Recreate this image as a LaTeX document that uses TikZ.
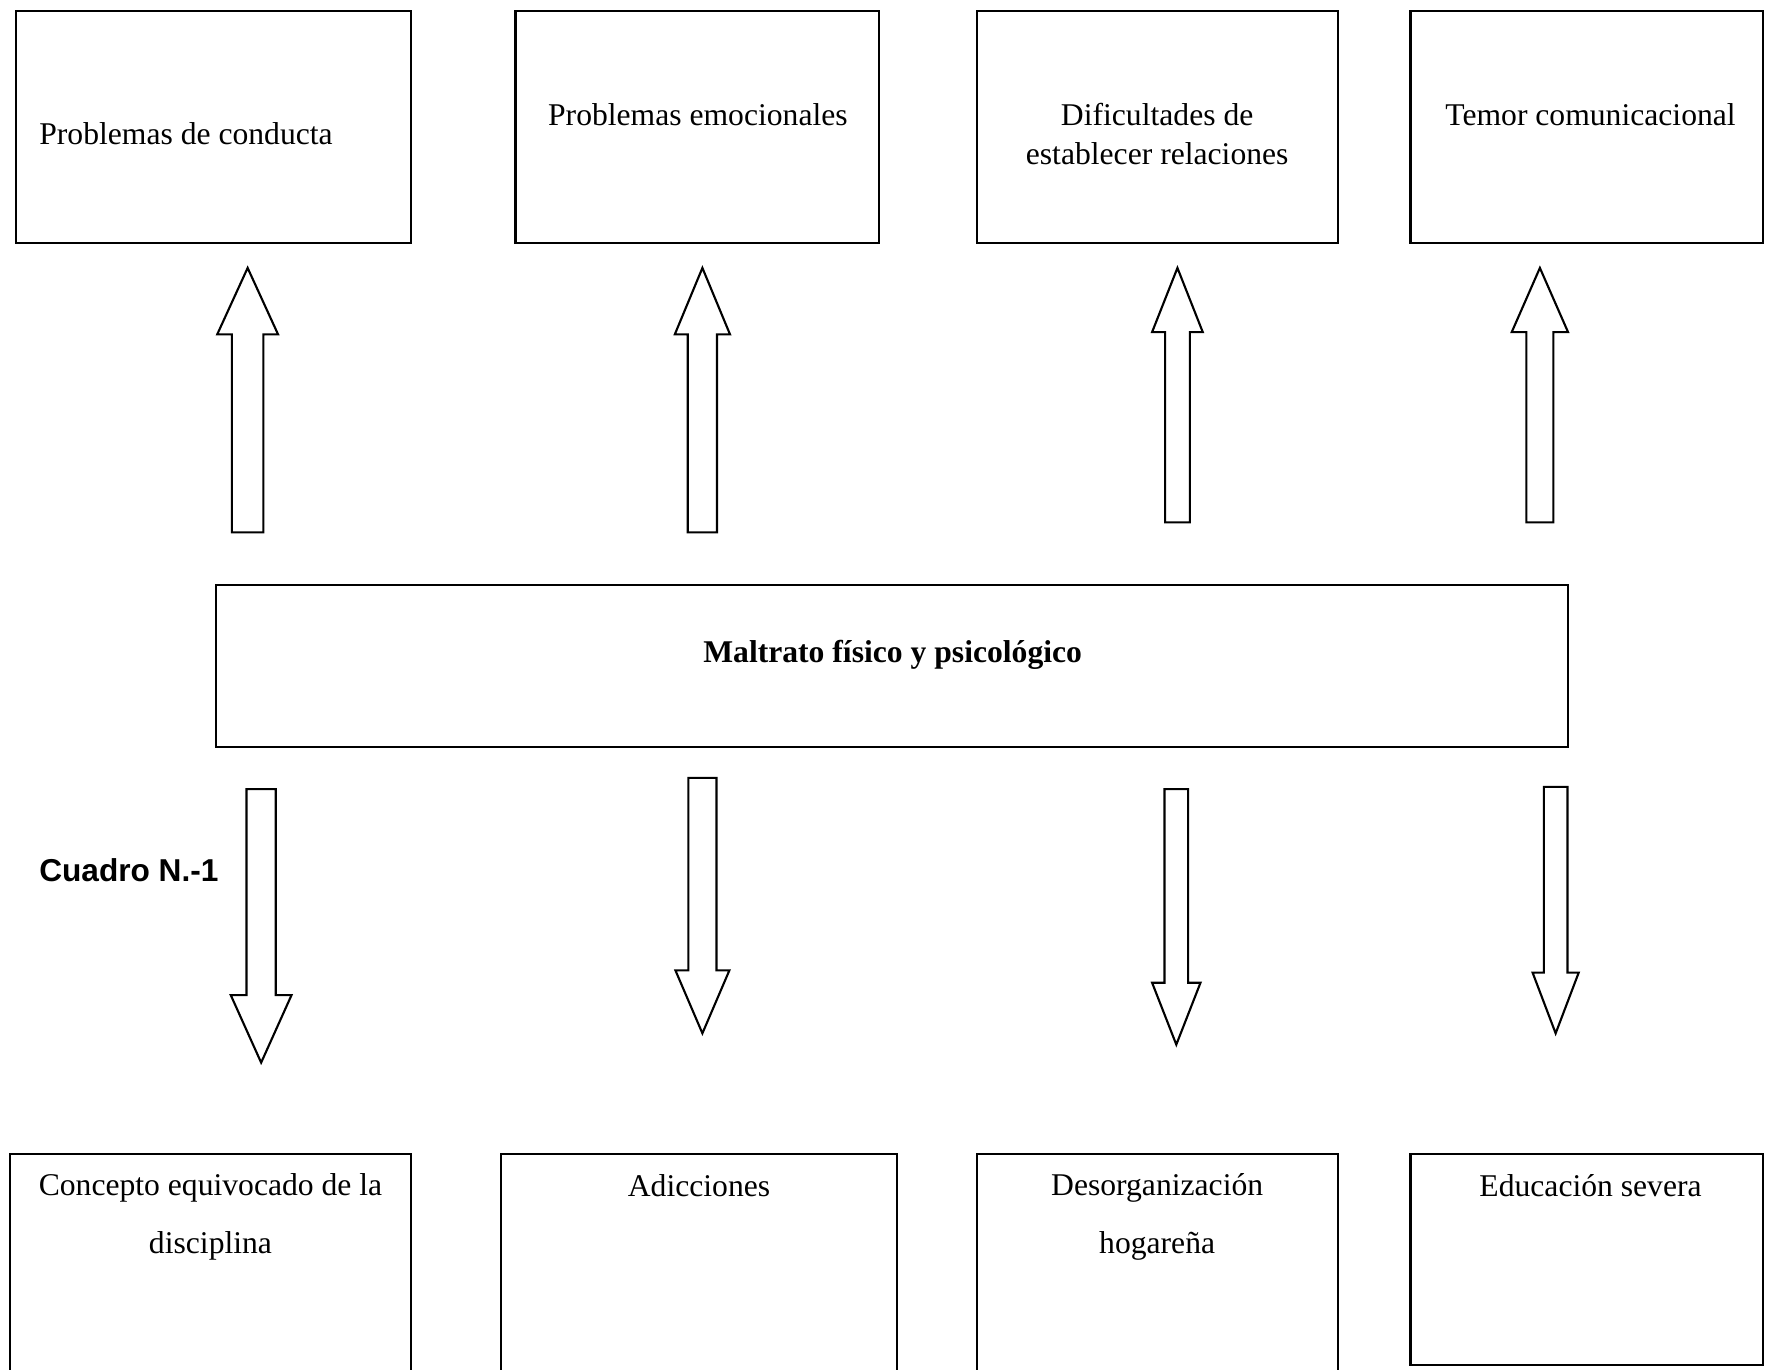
\documentclass[tikz,border=0pt]{standalone}
\usepackage{fontspec}
\setmainfont{Liberation Serif}
\setsansfont{Liberation Sans}
\usetikzlibrary{fit}

\newcommand{\blockarrow}[6]{% x, start, head base, tip, half shaft, half head
  \draw[blockarr] ({#1-#5},#2) -- ({#1-#5},#3) -- ({#1-#6},#3) -- (#1,#4)
    -- ({#1+#6},#3) -- ({#1+#5},#3) -- ({#1+#5},#2) -- cycle;}

\begin{document}
\begin{tikzpicture}[x=0.11257mm, y=-0.11257mm, line width=0.6pt,
    blockarr/.style={draw=black, line join=miter},
    box/.style={draw=black, inner sep=0pt, rectangle},
    lbl/.style={inner sep=0pt, font=\fontsize{9}{10.9}\selectfont, align=center}]

   \useasboundingbox (0,0) rectangle (1568,1217);
   \clip (0,0) rectangle (1568,1217);

   % effects
   \begin{scope}[every node/.style={box}]
    \node[fit={(14,10) (365,216)}] (e1) {};
    \node[fit={(458,10) (781,216)}] (e2) {};
    \node[fit={(868,10) (1189,216)}] (e3) {};
    \node[fit={(1253,10) (1566.5,216)}] (e4) {};
   \end{scope}
   \node[lbl, anchor=west] (te1) at (34,119) {Problemas de conducta};
   \node[lbl] (te2) at (620,102) {Problemas emocionales};
   \node[lbl] (te3) at (1028,119) {Dificultades de\\establecer relaciones};
   \node[lbl] (te4) at (1413,102) {Temor comunicacional};

   % problem
   \node[box, fit={(192,520) (1393,664)}] (m) {};
   \node[lbl, font=\fontsize{9}{10.9}\selectfont\bfseries] (tm) at (793,582) {Maltrato físico y psicológico};

   % causes
   \begin{scope}[every node/.style={box}]
    \node[fit={(9,1025) (365,1240)}] (c1) {};
    \node[fit={(445,1025) (797,1240)}] (c2) {};
    \node[fit={(868,1025) (1189,1240)}] (c3) {};
    \node[fit={(1253,1025) (1566.5,1213)}] (c4) {};
   \end{scope}
   \begin{scope}[every node/.style={lbl, font=\fontsize{9}{16.3}\selectfont}]
    \node (tc1) at (187,1081) {Concepto equivocado de la\\disciplina};
    \node (tc2) at (621,1053) {Adicciones};
    \node (tc3) at (1028,1081) {Desorganización\\hogareña};
    \node (tc4) at (1413,1053) {Educación severa};
   \end{scope}

   \node[lbl, font=\fontsize{9}{10.9}\selectfont\sffamily\bfseries] (cuadro) at (114.5,773) {Cuadro N.-1};

   % arrows up
   \blockarrow{220}{473}{297}{238}{14}{27}
   \blockarrow{624}{473}{297}{238}{13}{24.5}
   \blockarrow{1046}{464}{295}{238}{11}{22.5}
   \blockarrow{1368}{464}{295}{238}{12}{25}
   % arrows down
   \blockarrow{232}{701}{884}{944}{13}{27}
   \blockarrow{624}{691}{862}{918}{12.5}{24}
   \blockarrow{1045}{701}{873}{928}{10.5}{21.5}
   \blockarrow{1382}{699}{864}{918}{10.5}{20.5}
\end{tikzpicture}
\end{document}
